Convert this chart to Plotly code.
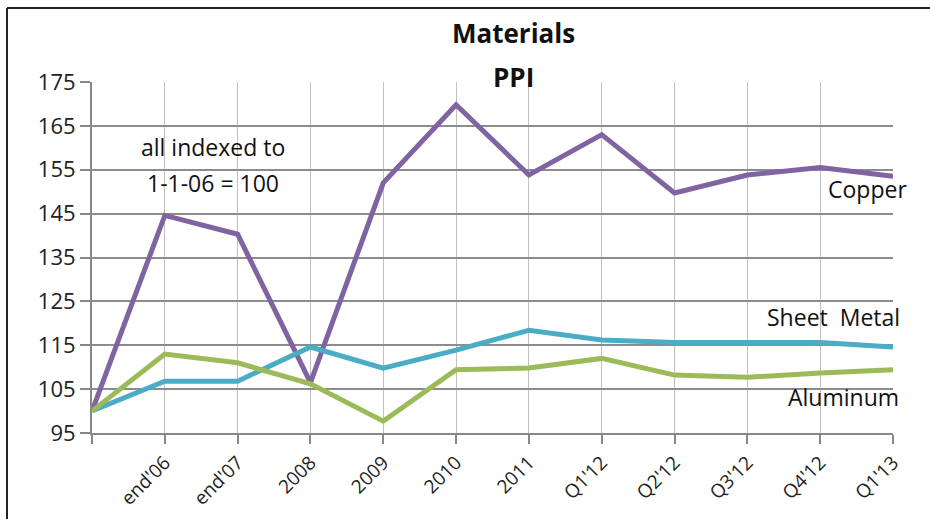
import plotly.graph_objects as go

categories = ["", "end'06", "end'07", "2008", "2009", "2010", "2011",
              "Q1'12", "Q2'12", "Q3'12", "Q4'12", "Q1'13"]
copper = [100, 144.6, 140.3, 106.5, 152, 169.8, 153.8, 163, 149.7, 153.8, 155.5, 153.5]
sheet_metal = [100, 106.8, 106.8, 114.6, 109.8, 113.9, 118.4, 116.2, 115.6, 115.6, 115.6, 114.6]
aluminum = [100, 113, 111, 106.2, 97.7, 109.4, 109.8, 112, 108.2, 107.7, 108.7, 109.4]
y_ticks = [95, 105, 115, 125, 135, 145, 155, 165, 175]

FONT = "Open Sans"
xs = list(range(len(categories)))

fig = go.Figure()
fig.add_trace(go.Scatter(x=xs, y=copper, mode="lines", name="Copper",
                         line=dict(color="#8064a2", width=5)))
fig.add_trace(go.Scatter(x=xs, y=sheet_metal, mode="lines", name="Sheet Metal",
                         line=dict(color="#4bacc6", width=5)))
fig.add_trace(go.Scatter(x=xs, y=aluminum, mode="lines", name="Aluminum",
                         line=dict(color="#9bbb59", width=5)))

W, H = 930, 519
L, R, T, B = 92, 37, 82, 86
pw, ph = W - L - R, H - T - B

def px(x):
    return (x - L) / pw

def py(y):
    return (H - B - y) / ph

fig.update_layout(
    width=W, height=H,
    margin=dict(l=L, r=R, t=T, b=B),
    paper_bgcolor="white", plot_bgcolor="white",
    showlegend=False,
    font=dict(family=FONT, color="#222222", size=18),
    xaxis=dict(range=[0, len(categories) - 1], tickvals=xs, ticktext=categories,
               tickangle=-45, ticks="outside", ticklen=9, tickcolor="#888888",
               tickwidth=2, showgrid=True, gridcolor="#c0c0c0", gridwidth=1,
               showline=True, linecolor="#888888", linewidth=2,
               tickfont=dict(family=FONT, size=19, color="#222222"),
               automargin=False, fixedrange=True),
    yaxis=dict(range=[95, 175], tickvals=y_ticks, ticks="outside", ticklen=10,
               tickcolor="#888888", tickwidth=2, showgrid=True,
               gridcolor="#8c8c8c", gridwidth=2, showline=True,
               linecolor="#888888", linewidth=2, zeroline=False,
               tickfont=dict(family=FONT, size=22, color="#222222"),
               automargin=False, fixedrange=True),
)

# frame lines (top & left of the outer box)
fig.add_shape(type="line", xref="paper", yref="paper",
              x0=px(7), x1=px(935), y0=py(8), y1=py(8),
              line=dict(color="#222222", width=2))
fig.add_shape(type="line", xref="paper", yref="paper",
              x0=px(7), x1=px(7), y0=py(8), y1=py(525),
              line=dict(color="#222222", width=2))

anns = [
    dict(text="<b>Materials</b>", x=px(513), y=py(33), size=26),
    dict(text="<b>PPI</b>", x=px(513), y=py(77), size=26),
    dict(text="all indexed to", x=px(213), y=py(147), size=23),
    dict(text="1-1-06 = 100", x=px(213), y=py(183), size=23),
    dict(text="Copper", x=px(867), y=py(189), size=23),
    dict(text="Sheet  Metal", x=px(833), y=py(317), size=23),
    dict(text="Aluminum", x=px(843), y=py(397), size=23),
]
for a in anns:
    fig.add_annotation(text=a["text"], x=a["x"], y=a["y"], xref="paper", yref="paper",
                       showarrow=False, xanchor="center", yanchor="middle",
                       font=dict(family=FONT, size=a["size"], color="#111111"))

fig.write_html("out.html")
